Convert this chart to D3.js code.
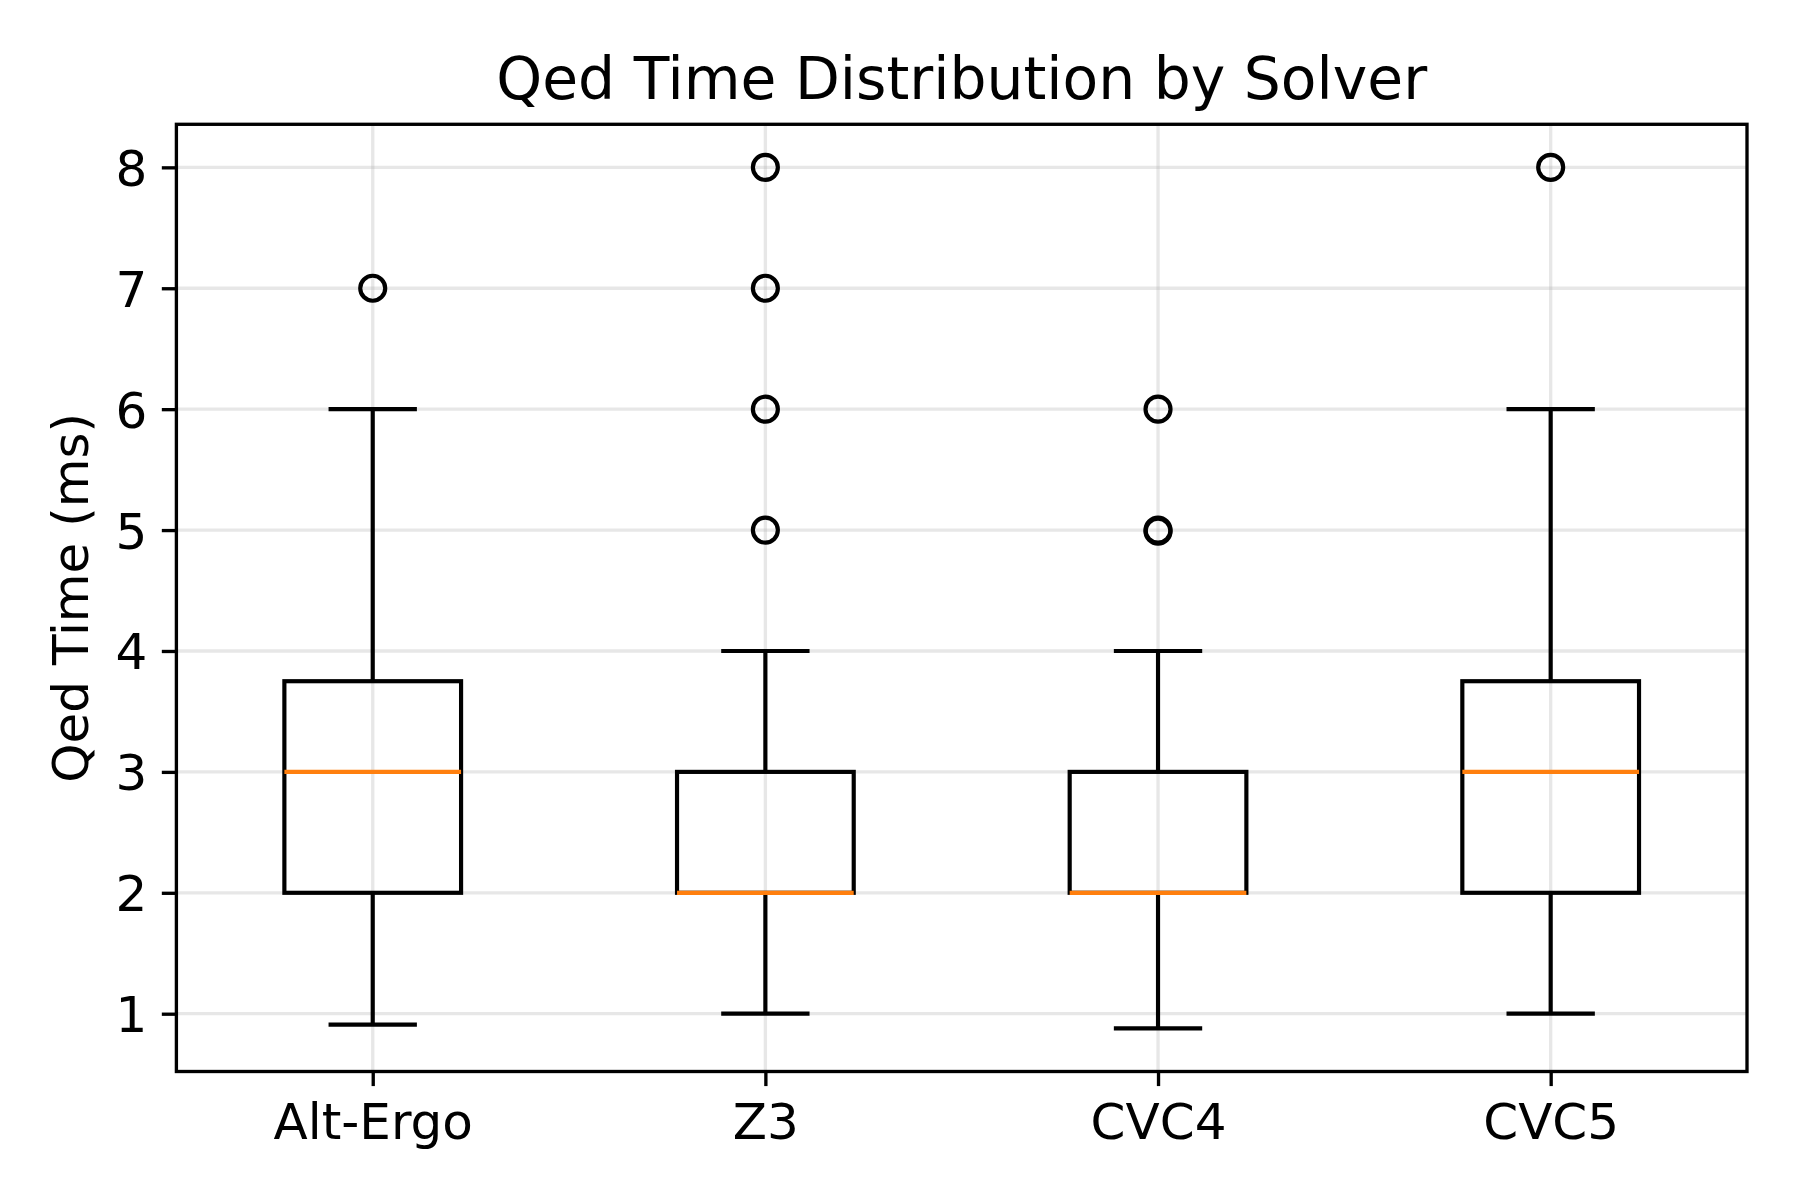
<!DOCTYPE html>
<html>
<head>
<meta charset="utf-8">
<script src="https://cdn.jsdelivr.net/npm/d3@7"></script>
<style>
  body { margin: 0; background: #fff; }
  text { font-family: "DejaVu Sans", sans-serif; fill: #000; }
</style>
</head>
<body>
<div id="vis"></div>
<script>
const FRAME_WIDTH = 1800;
const FRAME_HEIGHT = 1200;
const MARGINS = {left: 176.4, right: 53, top: 124.3, bottom: 128.5};

// box stats
const solvers = ["Alt-Ergo", "Z3", "CVC4", "CVC5"];
const whiskerLow = [0.91, 1, 0.878, 1];
const q1 = [2, 2, 2, 2];
const medians = [3, 2, 2, 3];
const q3 = [3.75, 3, 3, 3.75];
const whiskerHigh = [6, 4, 4, 6];
const outliers = [[7], [5, 6, 7, 8], [5, 4.99, 6], [8]];
const yTicks = [1, 2, 3, 4, 5, 6, 7, 8];

const PT = 300 / 72; // figure drawn at 300 dpi
const VIS_WIDTH = FRAME_WIDTH - MARGINS.left - MARGINS.right;
const VIS_HEIGHT = FRAME_HEIGHT - MARGINS.top - MARGINS.bottom;

const svg = d3.select("#vis")
  .append("svg")
    .attr("width", FRAME_WIDTH)
    .attr("height", FRAME_HEIGHT);

const g = svg.append("g")
    .attr("transform", "translate(" + MARGINS.left + "," + MARGINS.top + ")");

// positions 1..4 like matplotlib, xlim 0.5..4.5
const X_SCALE = d3.scaleLinear().domain([0.5, 4.5]).range([0, VIS_WIDTH]);
const Y_SCALE = d3.scaleLinear().domain([0.522, 8.356]).range([VIS_HEIGHT, 0]);

const BOX_W = 0.45;
const CAP_W = 0.225;

// grid
g.append("g").selectAll("line")
  .data(yTicks).enter().append("line")
    .attr("x1", 0).attr("x2", VIS_WIDTH)
    .attr("y1", d => Y_SCALE(d)).attr("y2", d => Y_SCALE(d))
    .attr("stroke", "#b0b0b0").attr("stroke-opacity", 0.3)
    .attr("stroke-width", 0.8 * PT);
g.append("g").selectAll("line")
  .data(solvers).enter().append("line")
    .attr("x1", (d, i) => X_SCALE(i + 1)).attr("x2", (d, i) => X_SCALE(i + 1))
    .attr("y1", 0).attr("y2", VIS_HEIGHT)
    .attr("stroke", "#b0b0b0").attr("stroke-opacity", 0.3)
    .attr("stroke-width", 0.8 * PT);

// boxes
const boxes = g.selectAll(".box")
  .data(solvers).enter().append("g")
    .attr("class", "box");

const LW = 1 * PT;

// whiskers
boxes.append("line")
    .attr("x1", (d, i) => X_SCALE(i + 1)).attr("x2", (d, i) => X_SCALE(i + 1))
    .attr("y1", (d, i) => Y_SCALE(q1[i])).attr("y2", (d, i) => Y_SCALE(whiskerLow[i]))
    .attr("stroke", "#000").attr("stroke-width", LW);
boxes.append("line")
    .attr("x1", (d, i) => X_SCALE(i + 1)).attr("x2", (d, i) => X_SCALE(i + 1))
    .attr("y1", (d, i) => Y_SCALE(q3[i])).attr("y2", (d, i) => Y_SCALE(whiskerHigh[i]))
    .attr("stroke", "#000").attr("stroke-width", LW);

// caps
[whiskerLow, whiskerHigh].forEach(arr => {
  boxes.append("line")
      .attr("x1", (d, i) => X_SCALE(i + 1 - CAP_W / 2))
      .attr("x2", (d, i) => X_SCALE(i + 1 + CAP_W / 2))
      .attr("y1", (d, i) => Y_SCALE(arr[i])).attr("y2", (d, i) => Y_SCALE(arr[i]))
      .attr("stroke", "#000").attr("stroke-width", LW);
});

// box rect
boxes.append("rect")
    .attr("x", (d, i) => X_SCALE(i + 1 - BOX_W / 2))
    .attr("width", X_SCALE(1 + BOX_W) - X_SCALE(1))
    .attr("y", (d, i) => Y_SCALE(q3[i]))
    .attr("height", (d, i) => Y_SCALE(q1[i]) - Y_SCALE(q3[i]))
    .attr("fill", "none")
    .attr("stroke", "#000").attr("stroke-width", LW)
    .attr("stroke-linejoin", "miter");

// medians
boxes.append("line")
    .attr("x1", (d, i) => X_SCALE(i + 1 - BOX_W / 2))
    .attr("x2", (d, i) => X_SCALE(i + 1 + BOX_W / 2))
    .attr("y1", (d, i) => Y_SCALE(medians[i])).attr("y2", (d, i) => Y_SCALE(medians[i]))
    .attr("stroke", "#ff7f0e").attr("stroke-width", LW);

// fliers
boxes.each(function(d, i) {
  d3.select(this).selectAll("circle")
    .data(outliers[i]).enter().append("circle")
      .attr("cx", X_SCALE(i + 1))
      .attr("cy", v => Y_SCALE(v))
      .attr("r", 3 * PT)
      .attr("fill", "none")
      .attr("stroke", "#000").attr("stroke-width", LW);
});

// axes
const xAxis = g.append("g")
    .attr("transform", "translate(0," + VIS_HEIGHT + ")")
    .call(d3.axisBottom(X_SCALE)
      .tickValues([1, 2, 3, 4])
      .tickFormat((d, i) => solvers[i])
      .tickSize(3.5 * PT)
      .tickPadding(3.5 * PT));
const yAxis = g.append("g")
    .call(d3.axisLeft(Y_SCALE)
      .tickValues(yTicks)
      .tickFormat(d3.format("d"))
      .tickSize(3.5 * PT)
      .tickPadding(3.5 * PT));

[xAxis, yAxis].forEach(ax => {
  ax.select(".domain").remove();
  ax.selectAll(".tick line").attr("stroke", "#000").attr("stroke-width", 0.8 * PT);
  ax.selectAll(".tick text")
    .attr("font-family", "DejaVu Sans")
    .attr("font-size", 12 * PT)
    .attr("fill", "#000");
});
xAxis.selectAll(".tick text").attr("dy", "0.76em");
yAxis.selectAll(".tick text").attr("dy", "0.36em");

// spines
g.append("rect")
    .attr("x", 0).attr("y", 0)
    .attr("width", VIS_WIDTH).attr("height", VIS_HEIGHT)
    .attr("fill", "none")
    .attr("stroke", "#000").attr("stroke-width", 0.8 * PT);

// title
svg.append("text")
    .attr("x", MARGINS.left + VIS_WIDTH / 2)
    .attr("y", MARGINS.top - 6 * PT)
    .attr("text-anchor", "middle")
    .attr("font-size", 14 * PT)
    .text("Qed Time Distribution by Solver");

// y label
svg.append("text")
    .attr("transform", "translate(88," + (MARGINS.top + VIS_HEIGHT / 2) + ") rotate(-90)")
    .attr("text-anchor", "middle")
    .attr("font-size", 12 * PT)
    .text("Qed Time (ms)");
</script>
</body>
</html>
